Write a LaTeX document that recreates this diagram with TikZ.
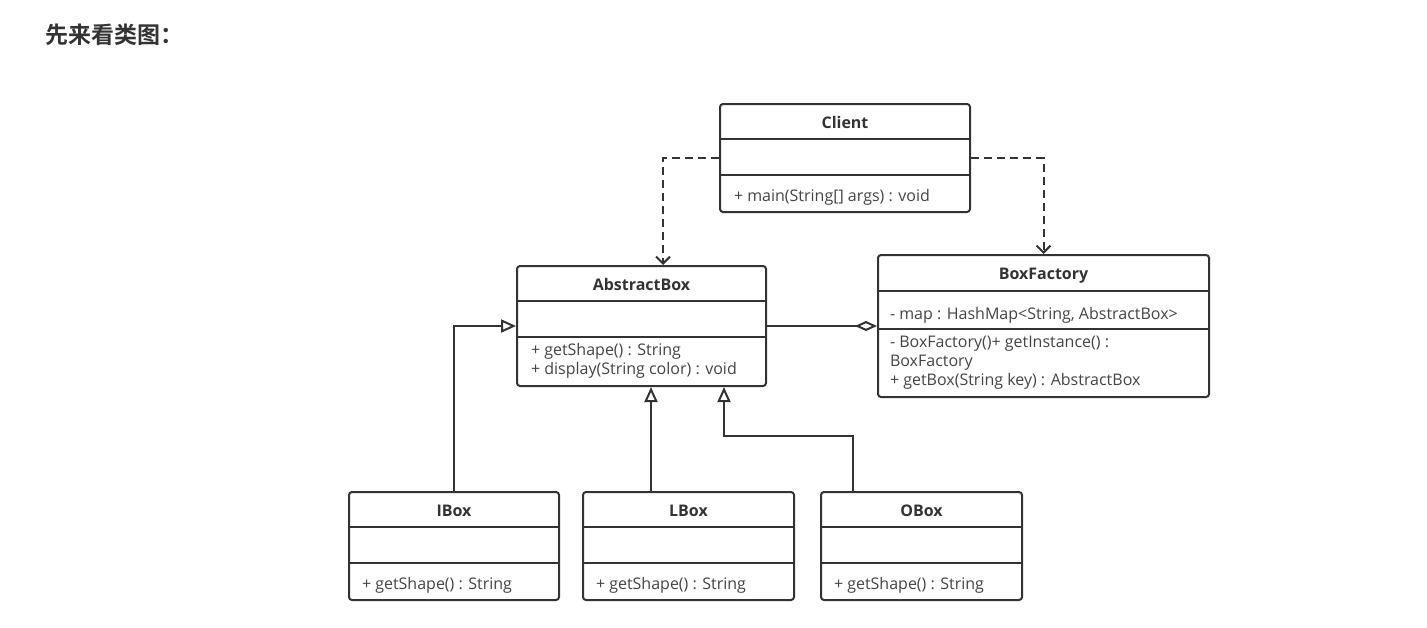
\documentclass[tikz,border=0pt]{standalone}
\usepackage{fontspec}
\setmainfont{Open Sans}
\newfontfamily\cjk{Noto Sans CJK SC Bold}
\usetikzlibrary{arrows.meta}
\definecolor{ink}{HTML}{333333}
\definecolor{txt}{HTML}{444444}
\tikzset{
  px/.style={x=.5pt,y=-.5pt,line width=1pt,draw=ink,font=\fontsize{8pt}{9.5pt}\selectfont},
  cls/.style={draw=ink,line width=1pt,rounded corners=1.5pt,inner sep=0pt},
  ttl/.style={font=\fontsize{8pt}{9.5pt}\selectfont\bfseries,text=ink,inner sep=0pt,anchor=base},
  mem/.style={anchor=base west,inner sep=0pt,text=txt},
  dep/.style={draw=ink,dash pattern=on 4pt off 2.5pt,-{Straight Barb[length=3.5pt,width=7pt]}},
  gen/.style={draw=ink,-{Triangle[open,length=7.5pt,width=6.5pt,fill=white]}},
  agg/.style={draw=ink,-{Diamond[open,length=11pt,width=5pt,fill=white]}}
}
\begin{document}
\begin{tikzpicture}[px]
  \useasboundingbox (0,0) rectangle (1427,627);
  \node[anchor=west,inner sep=0pt,text=ink,font=\cjk\fontsize{11.5pt}{13pt}\selectfont] (head) at (44,35) {先来看类图：};
  % classes
  \node[cls,minimum width=125pt,minimum height=54pt] (client) at (845,158) {};
  \node[cls,minimum width=124.5pt,minimum height=60pt] (abs) at (641.5,326) {};
  \node[cls,minimum width=165.5pt,minimum height=71pt] (fac) at (1043.5,326) {};
  \node[cls,minimum width=105pt,minimum height=54pt] (ibox) at (454,546) {};
  \node[cls,minimum width=105.5pt,minimum height=54pt] (lbox) at (688.5,546) {};
  \node[cls,minimum width=100.5pt,minimum height=54pt] (obox) at (921.5,546) {};
  \foreach \n/\t/\a/\b in {client/Client/18/36,abs/AbstractBox/18/36,fac/BoxFactory/18.5/37.5,
      ibox/IBox/18/36,lbox/LBox/18/36,obox/OBox/18/36}{
    \draw[ink] ([yshift=-\a pt]\n.north west) -- ([yshift=-\a pt]\n.north east);
    \draw[ink] ([yshift=-\b pt]\n.north west) -- ([yshift=-\b pt]\n.north east);
    \node[ttl] (\n-t) at ([yshift=-12.5pt]\n.north) {\t};
  }
  % members (baselines)
  \node[mem] (client-m) at (733,201) {+ main(String[] args) : void};
  \node[mem] (abs-m1) at (530,355) {+ getShape() : String};
  \node[mem] (abs-m2) at (530,374) {+ display(String color) : void};
  \node[mem] (fac-a) at (889,319) {- map : HashMap<String, AbstractBox>};
  \node[mem] (fac-m1) at (889,347) {- BoxFactory()+ getInstance() :};
  \node[mem] (fac-m2) at (889,366) {BoxFactory};
  \node[mem] (fac-m3) at (889,385) {+ getBox(String key) : AbstractBox};
  \foreach \n/\x in {ibox/361,lbox/595,obox/833}{\node[mem] (\n-m) at (\x,589) {+ getShape() : String};}
  % relations
  \coordinate (absD) at ([xshift=10.75pt]abs.north);
  \coordinate (absL) at ([xshift=4.75pt]abs.south);
  \coordinate (absR) at ([xshift=41.25pt]abs.south);
  \draw[dep] (client.west) -| (absD);
  \draw[dep] (client.east) -| (fac.north);
  \draw[agg] (abs.east) -- (fac.west);
  \draw[gen] (ibox.north) |- (abs.west);
  \draw[gen] (lbox.north -| absL) -- (absL);
  \draw[gen] ([xshift=-34.25pt]obox.north) -- ++(0,27.5pt) -| (absR);
\end{tikzpicture}
\end{document}
